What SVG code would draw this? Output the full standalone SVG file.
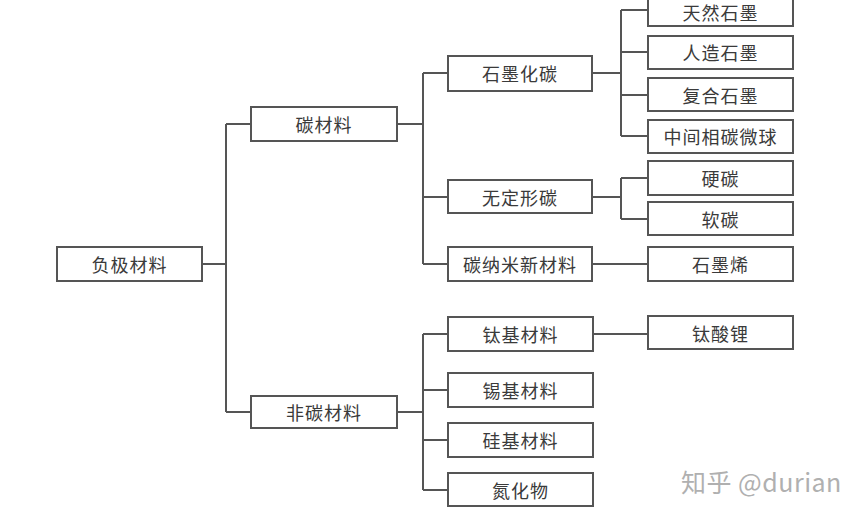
<svg xmlns="http://www.w3.org/2000/svg" width="865" height="516" viewBox="0 0 865 516">
<style>
.box{fill:#fff;stroke:#555;stroke-width:2}
.lbl{font-family:"Noto Sans CJK SC","Noto Sans",sans-serif;font-size:18px;fill:#3a3a3a;text-anchor:middle;dominant-baseline:central;letter-spacing:1px}
.conn{fill:none;stroke:#555;stroke-width:2}
.wm{font-family:"Noto Sans CJK SC","Noto Sans",sans-serif;font-size:25px;fill:#b0b0b0;letter-spacing:0.5px}
</style>
<rect width="865" height="516" fill="#fff"/>
<g id="connectors" class="conn">
<path d="M202 264H226M226 124V412M226 124H251M226 412H251"/>
<path d="M397 124H423M423 73V264M423 73H448M423 197H448M423 264H448"/>
<path d="M592 73H621M621 10V136M621 10H648M621 52H648M621 95H648M621 136H648"/>
<path d="M592 197H621M621 178V219M621 178H648M621 219H648"/>
<path d="M592 264H648"/>
<path d="M397 412H423M423 334V490M423 334H448M423 390H448M423 440H448M423 490H448"/>
<path d="M593 334H648"/>
</g>
<g id="n-root"><rect class="box" x="57" y="247" width="145" height="34"/><text class="lbl" x="129.5" y="264">负极材料</text></g>
<g id="n-carbon"><rect class="box" x="251" y="107" width="146" height="34"/><text class="lbl" x="324" y="124">碳材料</text></g>
<g id="n-noncarbon"><rect class="box" x="251" y="396" width="146" height="32"/><text class="lbl" x="324" y="412">非碳材料</text></g>
<g id="n-graphitic"><rect class="box" x="448" y="56" width="144" height="35"/><text class="lbl" x="520" y="73">石墨化碳</text></g>
<g id="n-amorphous"><rect class="box" x="448" y="180" width="144" height="33"/><text class="lbl" x="520" y="197">无定形碳</text></g>
<g id="n-nano"><rect class="box" x="448" y="247" width="144" height="34"/><text class="lbl" x="520" y="264">碳纳米新材料</text></g>
<g id="n-natural"><rect class="box" x="648" y="-8" width="145" height="34"/><text class="lbl" x="720.5" y="12">天然石墨</text></g>
<g id="n-artificial"><rect class="box" x="648" y="36" width="145" height="33"/><text class="lbl" x="720.5" y="52">人造石墨</text></g>
<g id="n-composite"><rect class="box" x="648" y="78" width="145" height="33"/><text class="lbl" x="720.5" y="95">复合石墨</text></g>
<g id="n-mcmb"><rect class="box" x="648" y="120" width="145" height="33"/><text class="lbl" x="720.5" y="136">中间相碳微球</text></g>
<g id="n-hard"><rect class="box" x="648" y="161" width="145" height="34"/><text class="lbl" x="720.5" y="178">硬碳</text></g>
<g id="n-soft"><rect class="box" x="648" y="202" width="145" height="33"/><text class="lbl" x="720.5" y="219">软碳</text></g>
<g id="n-graphene"><rect class="box" x="648" y="247" width="145" height="34"/><text class="lbl" x="720.5" y="264">石墨烯</text></g>
<g id="n-ti"><rect class="box" x="448" y="317" width="145" height="34"/><text class="lbl" x="520.5" y="334">钛基材料</text></g>
<g id="n-lto"><rect class="box" x="648" y="316" width="145" height="33"/><text class="lbl" x="720.5" y="333">钛酸锂</text></g>
<g id="n-sn"><rect class="box" x="448" y="373" width="145" height="34"/><text class="lbl" x="520.5" y="390">锡基材料</text></g>
<g id="n-si"><rect class="box" x="448" y="423" width="145" height="34"/><text class="lbl" x="520.5" y="440">硅基材料</text></g>
<g id="n-nitride"><rect class="box" x="448" y="473" width="145" height="33"/><text class="lbl" x="520.5" y="490">氮化物</text></g>
<text class="wm" x="681" y="492">知乎 @durian</text>
</svg>
